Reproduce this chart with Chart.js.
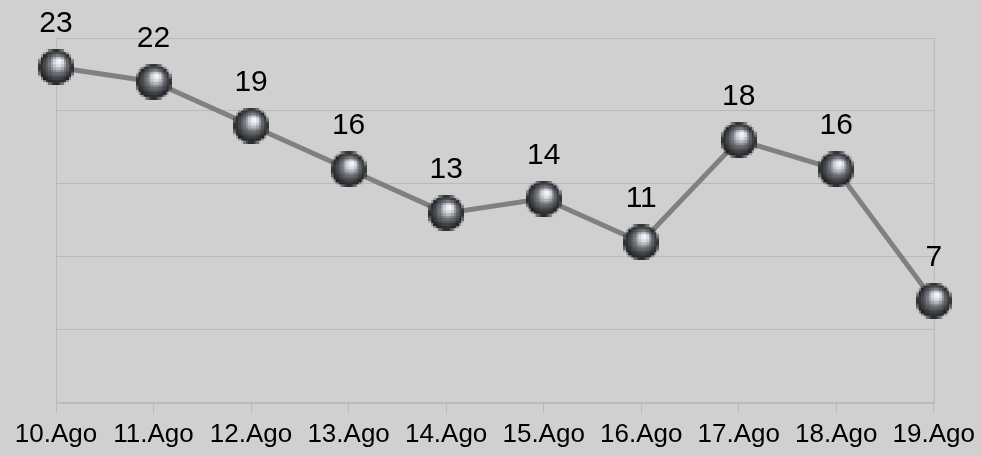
<!DOCTYPE html>
<html>
<head>
<meta charset="utf-8">
<script src="https://cdn.jsdelivr.net/npm/chart.js@4"></script>
<style>
    html, body { margin: 0; padding: 0; background: #d0d0d0; }
    .chartBox { width: 981px; height: 456px; position: relative; }
</style>
</head>
<body>
<div class="chartBox"><canvas id="myChart"></canvas></div>
<script>
const days = ['10.Ago', '11.Ago', '12.Ago', '13.Ago', '14.Ago', '15.Ago', '16.Ago', '17.Ago', '18.Ago', '19.Ago']
const counts = [23, 22, 19, 16, 13, 14, 11, 18, 16, 7]
const yTicks = [0, 5, 10, 15, 20, 25]

const gridColor = '#b9b9b9'

// small sphere bitmap, then blown up without smoothing so it looks pixelated like the original
function makeSphere(size, small){
    const s = document.createElement('canvas')
    s.width = small; s.height = small
    const sc = s.getContext('2d')
    const g = sc.createRadialGradient(small*0.6, small*0.33, 0, small*0.5, small*0.5, small*0.5)
    g.addColorStop(0, '#ffffff')
    g.addColorStop(0.2, '#dfe2ea')
    g.addColorStop(0.5, '#6d7075')
    g.addColorStop(0.8, '#35373a')
    g.addColorStop(1, '#141516')
    sc.fillStyle = g
    sc.beginPath()
    sc.arc(small/2, small/2, small/2, 0, Math.PI*2)
    sc.fill()

    const big = document.createElement('canvas')
    big.width = size; big.height = size
    const bc = big.getContext('2d')
    bc.imageSmoothingEnabled = false
    bc.drawImage(s, 0, 0, size, size)
    return big
}
const sphere = makeSphere(36, 14)

const plotBorder = {
    id: 'plotBorder',
    beforeDatasetsDraw(chart){
        const {ctx, chartArea: a} = chart
        ctx.save()
        ctx.strokeStyle = gridColor
        ctx.lineWidth = 1
        ctx.strokeRect(a.left + 0.5, a.top + 0.5, a.right - a.left, a.bottom - a.top)
        ctx.restore()
    }
}

const valueLabels = {
    id: 'valueLabels',
    afterDatasetsDraw(chart){
        const {ctx} = chart
        const meta = chart.getDatasetMeta(0)
        ctx.save()
        ctx.font = '30px "Liberation Sans", Arial, sans-serif'
        ctx.fillStyle = '#000'
        ctx.textAlign = 'center'
        ctx.textBaseline = 'alphabetic'
        meta.data.forEach((pt, i) => {
            ctx.fillText(counts[i], pt.x, pt.y - 35)
        })
        ctx.restore()
    }
}

const ctx = document.getElementById('myChart').getContext('2d')
new Chart(ctx, {
    type: 'line',
    data: {
        labels: days,
        datasets: [{
            data: counts,
            borderColor: '#808080',
            borderWidth: 5,
            pointStyle: sphere,
            pointRadius: 18,
            pointHoverRadius: 18,
            tension: 0,
            clip: false
        }]
    },
    options: {
        responsive: true,
        maintainAspectRatio: false,
        devicePixelRatio: 1,
        animation: false,
        events: [],
        layout: { padding: { left: 56, right: 47, top: 38, bottom: 0 } },
        plugins: { legend: { display: false }, tooltip: { enabled: false } },
        scales: {
            x: {
                offset: false,
                grid: { display: true, drawOnChartArea: false, color: gridColor, tickLength: 10 },
                border: { display: true, color: gridColor },
                ticks: {
                    color: '#000',
                    padding: 6,
                    maxRotation: 0,
                    autoSkip: false,
                    font: { family: '"Liberation Sans", Arial, sans-serif', size: 26 }
                }
            },
            y: {
                min: yTicks[0],
                max: yTicks[yTicks.length - 1],
                afterBuildTicks(axis){ axis.ticks = yTicks.map(v => ({value: v})) },
                grid: { color: gridColor, drawTicks: false },
                border: { display: true, color: gridColor },
                ticks: { display: false }
            }
        }
    },
    plugins: [plotBorder, valueLabels]
})
</script>
</body>
</html>
